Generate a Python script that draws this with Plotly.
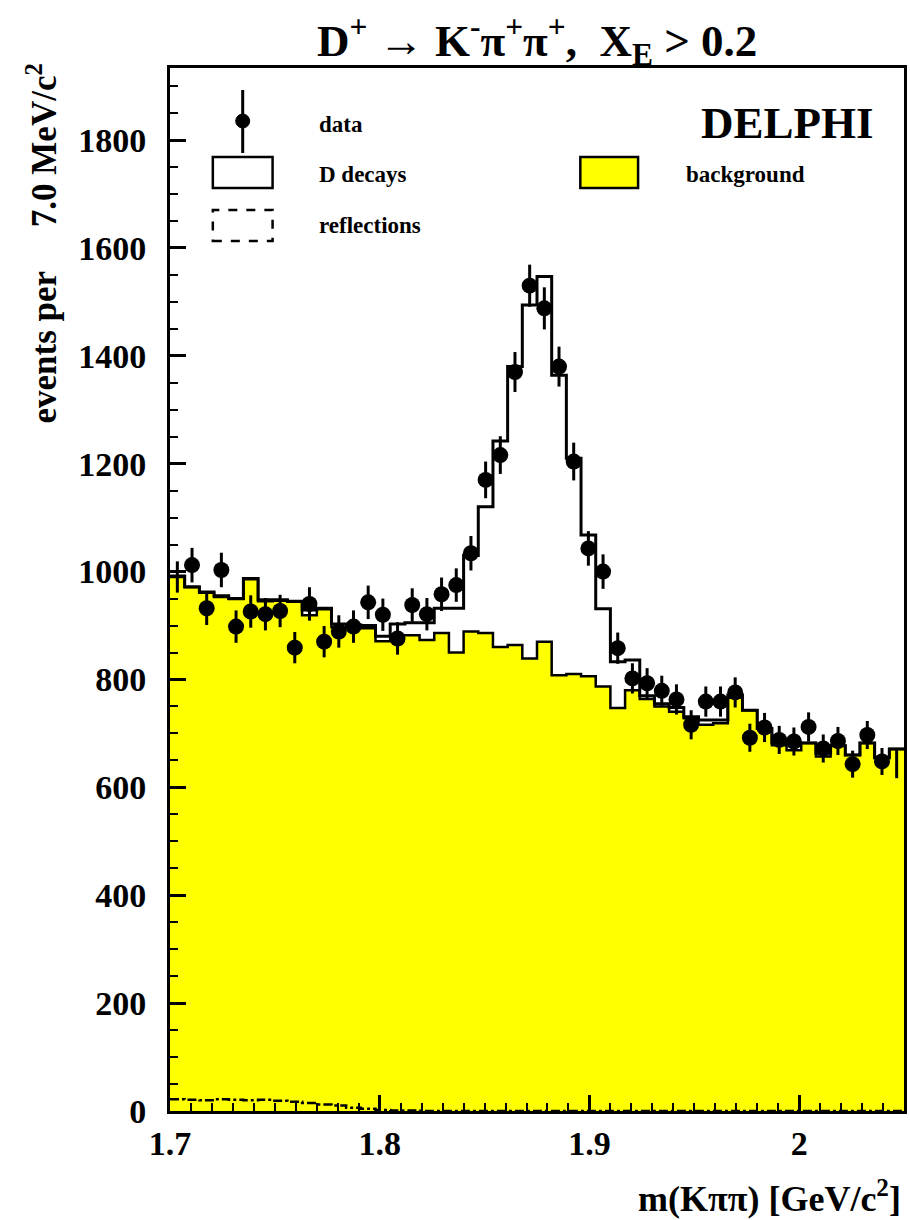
import numpy as np
import plotly.graph_objects as go

# ---------------- data ----------------
x_min, x_max, bin_w = 1.7, 2.05, 0.007
n_bins = 50
edges = np.round(x_min + bin_w * np.arange(n_bins + 1), 4)
centers = np.round(edges[:-1] + bin_w / 2, 4)

data_counts = [None, 1012, 932, 1003, 898, 926, 921, 927, 859, 940,
               870, 889, 898, 943, 920, 876, 938, 921, 958, 975,
               1034, 1170, 1216, 1370, 1530, 1488, 1380, 1204, 1043, 1000,
               858, 802, 793, 779, 763, 716, 759, 759, 776, 692,
               711, 688, 685, 712, 672, 686, 643, 697, 648, None]
data_errors = [None, 32, 31, 32, 30, 30, 30, 30, 29, 31,
               29, 30, 30, 31, 30, 30, 31, 30, 31, 31,
               32, 34, 35, 37, 39, 39, 37, 35, 32, 32,
               29, 28, 28, 28, 28, 27, 28, 28, 28, 26,
               27, 26, 26, 27, 26, 26, 25, 26, 25, None]
# edge bins drawn with error bar only
edge_bins = [0, 49]
edge_counts = [990, 643]
edge_errors = [29, 26]

total_counts = [992, 972, 962, 955, 950, 987, 948, 948, 945, 929,
                932, 903, 901, 900, 880, 903, 905, 905, 932, 932,
                1030, 1120, 1242, 1380, 1494, 1547, 1364, 1210, 1068, 931,
                833, 836, 770, 755, 748, 731, 725, 725, 771, 743,
                709, 682, 682, 682, 663, 677, 660, 682, 656, 671]
background_counts = [990, 971, 961, 953, 949, 986, 945, 946, 944, 919,
                     930, 897, 897, 895, 871, 882, 882, 873, 886, 850,
                     889, 886, 860, 864, 839, 870, 808, 810, 806, 787,
                     747, 780, 764, 750, 740, 728, 716, 719, 766, 743,
                     709, 678, 669, 682, 657, 677, 660, 682, 654, 671]
reflection_counts = [22, 21, 20, 22, 21, 20, 21, 19, 17, 15,
                     12, 10, 6, 4, 2, 1, 1, 0, 0, 0,
                     0, 0, 0, 0, 0, 0, 0, 0, 0, 0,
                     0, 0, 0, 0, 0, 0, 0, 0, 0, 0,
                     0, 0, 0, 0, 0, 0, 0, 0, 0, 0]

x_tick_vals = [1.7, 1.8, 1.9, 2.0]
x_tick_text = ["1.7", "1.8", "1.9", "2"]
y_tick_vals = [0, 200, 400, 600, 800, 1000, 1200, 1400, 1600, 1800]

# ---------------- layout geometry (pixels) ----------------
W, H = 910, 1220
L, R, T, B = 170, 3, 68, 109
PW, PH = W - L - R, H - T - B
Y_MAX = 1933.6
FONT = "Liberation Serif"


def px(xp):
    return (xp - L) / PW


def py(yp):
    return (H - B - yp) / PH


def step(vals):
    return list(vals) + [vals[-1]]


fig = go.Figure()

# background (yellow filled histogram)
fig.add_trace(go.Scatter(
    x=edges, y=step(background_counts), mode="lines", line_shape="hv",
    line=dict(color="black", width=2.5), fill="tozeroy",
    fillcolor="#ffff00", showlegend=False, hoverinfo="skip"))

# reflections
fig.add_trace(go.Scatter(
    x=edges, y=step(reflection_counts), mode="lines", line_shape="hv",
    line=dict(color="black", width=2.5, dash="dashdot"),
    showlegend=False, hoverinfo="skip"))

# total (D decays + background)
fig.add_trace(go.Scatter(
    x=edges, y=step(total_counts), mode="lines", line_shape="hv",
    line=dict(color="black", width=3), showlegend=False, hoverinfo="skip"))

# data points
fig.add_trace(go.Scatter(
    x=centers, y=data_counts, mode="markers",
    marker=dict(color="black", size=16, symbol="circle"),
    error_y=dict(type="data", array=data_errors, visible=True,
                 color="black", thickness=3, width=0),
    showlegend=False))

fig.add_trace(go.Scatter(
    x=[centers[i] for i in edge_bins], y=edge_counts, mode="markers",
    marker=dict(color="black", size=1, symbol="circle"),
    error_y=dict(type="data", array=edge_errors, visible=True,
                 color="black", thickness=3, width=0),
    showlegend=False))

shapes = []
annotations = []

# legend: data
shapes.append(dict(type="line", xref="paper", yref="paper",
                   x0=px(243), x1=px(243), y0=py(90), y1=py(153),
                   line=dict(color="black", width=3)))
shapes.append(dict(type="circle", xref="paper", yref="paper",
                   x0=px(236), x1=px(250), y0=py(128), y1=py(114),
                   fillcolor="black", line=dict(color="black", width=1)))
# legend: D decays
shapes.append(dict(type="rect", xref="paper", yref="paper",
                   x0=px(213), x1=px(273), y0=py(188), y1=py(157),
                   fillcolor="white", line=dict(color="black", width=2.5)))
# legend: background
shapes.append(dict(type="rect", xref="paper", yref="paper",
                   x0=px(582), x1=px(640), y0=py(188), y1=py(157),
                   fillcolor="#ffff00", line=dict(color="black", width=2.5)))
# legend: reflections
shapes.append(dict(type="rect", xref="paper", yref="paper",
                   x0=px(213), x1=px(273), y0=py(241), y1=py(210),
                   fillcolor="white", line=dict(color="black", width=2.5, dash="dash")))

leg_font = dict(family=FONT, size=23, color="black", weight="bold")
for txt, xx, yy in [("data", 318, 124), ("D decays", 318, 174),
                    ("background", 686, 174), ("reflections", 318, 226)]:
    annotations.append(dict(text=txt, x=px(xx), y=py(yy), xref="paper", yref="paper",
                            xanchor="left", yanchor="middle", showarrow=False,
                            font=leg_font))

annotations.append(dict(text="DELPHI", x=px(879), y=py(123), xref="paper", yref="paper",
                        xanchor="right", yanchor="middle", showarrow=False,
                        font=dict(family=FONT, size=45, color="black", weight="bold")))

# title
annotations.append(dict(
    text="D<sup>+</sup> → K<sup>-</sup>π<sup>+</sup>π<sup>+</sup>,&nbsp;&nbsp;X<sub>E</sub> > 0.2",
    x=px(539), y=py(40), xref="paper", yref="paper", xanchor="center", yanchor="middle",
    showarrow=False, font=dict(family=FONT, size=45, color="black", weight="bold")))

# axis titles
annotations.append(dict(
    text="events per&nbsp;&nbsp;&nbsp;&nbsp;&nbsp;7.0 MeV/c<sup>2</sup>", x=px(41), y=py(244),
    xref="paper", yref="paper",
    xanchor="center", yanchor="middle", textangle=-90, showarrow=False,
    font=dict(family=FONT, size=35, color="black", weight="bold")))
annotations.append(dict(
    text="m(Kππ) [GeV/c<sup>2</sup>]", x=px(906), y=py(1196), xref="paper", yref="paper",
    xanchor="right", yanchor="middle", showarrow=False,
    font=dict(family=FONT, size=36, color="black", weight="bold")))

tick_font = dict(family=FONT, size=34, color="black", weight="bold")

fig.update_layout(
    width=W, height=H,
    margin=dict(l=L, r=R, t=T, b=B, pad=0),
    paper_bgcolor="white", plot_bgcolor="white",
    showlegend=False,
    shapes=shapes, annotations=annotations,
    xaxis=dict(range=[x_min, x_max], tickvals=x_tick_vals, ticktext=x_tick_text,
               ticks="inside", ticklen=16, tickwidth=2.5, tickcolor="black",
               minor=dict(dtick=0.01, tick0=1.7, ticks="inside", ticklen=8,
                          tickwidth=2, tickcolor="black", showgrid=False),
               showline=True, linecolor="black", linewidth=3, mirror=True,
               showgrid=False, zeroline=False, tickfont=tick_font,
               ticklabelstandoff=0),
    yaxis=dict(range=[0, Y_MAX], tickvals=y_tick_vals,
               ticks="inside", ticklen=16, tickwidth=2.5, tickcolor="black",
               minor=dict(dtick=50, tick0=0, ticks="inside", ticklen=8,
                          tickwidth=2, tickcolor="black", showgrid=False),
               showline=True, linecolor="black", linewidth=3, mirror=True,
               showgrid=False, zeroline=False, tickfont=tick_font,
               ticklabelstandoff=14),
)

fig.write_html("out.html")
